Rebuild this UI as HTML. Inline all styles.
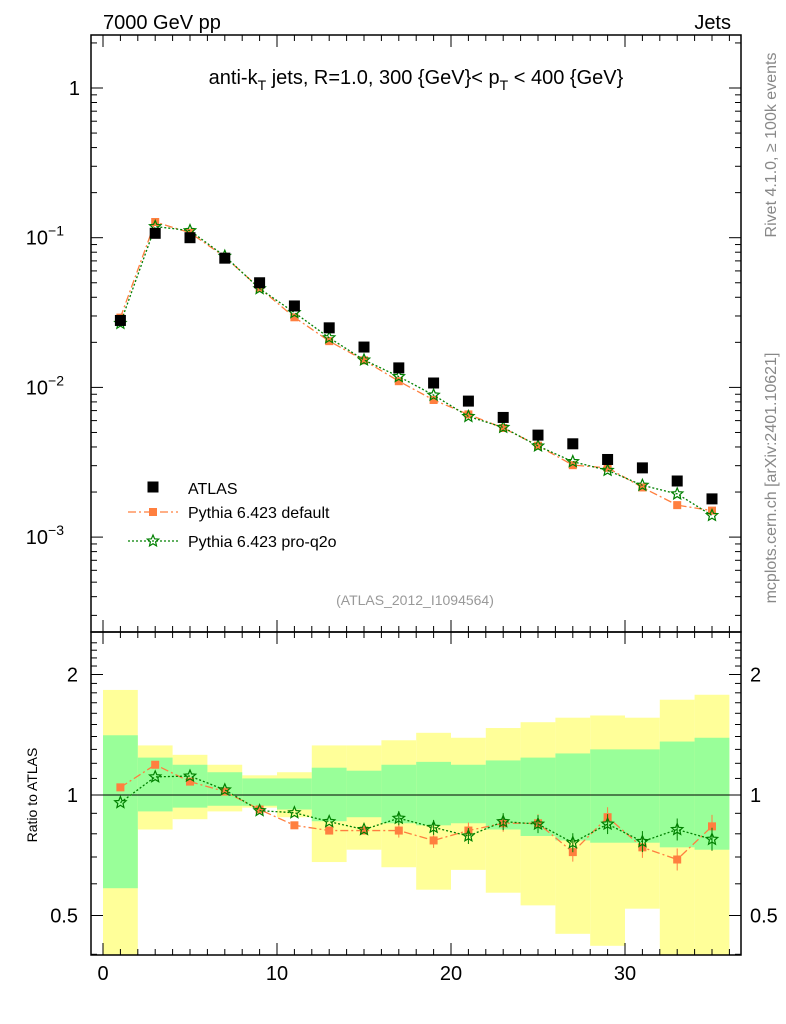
<!DOCTYPE html>
<html><head><meta charset="utf-8"><style>
body{margin:0;background:#fff}
svg{display:block;font-family:"Liberation Sans",sans-serif}
</style></head><body>
<svg id="c" width="786" height="1024" viewBox="0 0 786 1024"></svg>
<script>
const binCenters=[1,3,5,7,9,11,13,15,17,19,21,23,25,27,29,31,33,35];
const atlasValues=[0.028,0.107,0.100,0.073,0.050,0.035,0.025,0.0186,0.0135,0.0107,0.0081,0.0063,0.0048,0.0042,0.0033,0.0029,0.00237,0.0018];
const ratioDefault=[1.045,1.19,1.08,1.02,0.92,0.84,0.815,0.815,0.815,0.77,0.815,0.85,0.85,0.72,0.88,0.74,0.69,0.835];
const ratioProQ2o=[0.957,1.11,1.115,1.03,0.914,0.903,0.858,0.82,0.875,0.83,0.79,0.858,0.846,0.76,0.846,0.765,0.82,0.775];
const yellowUp=[1.83,1.33,1.26,1.19,1.12,1.14,1.33,1.33,1.37,1.43,1.39,1.47,1.52,1.56,1.58,1.56,1.73,1.78];
const yellowLo=[0.3,0.82,0.87,0.91,0.93,0.88,0.68,0.73,0.66,0.58,0.65,0.57,0.53,0.45,0.42,0.52,0.3,0.3];
const greenUp=[1.41,1.24,1.19,1.14,1.10,1.10,1.17,1.15,1.19,1.21,1.19,1.22,1.24,1.27,1.30,1.30,1.36,1.39];
const greenLo=[0.585,0.91,0.93,0.94,0.94,0.92,0.86,0.88,0.85,0.84,0.85,0.82,0.79,0.77,0.76,0.76,0.74,0.73];
const xTicks=[0,10,20,30];

const L=91,R=741,T=35,M=632,B=955;
const X=v=>103+v*17.4;
const Y=v=>88-Math.log10(v)*149.7;
const YR=v=>{const y=795-Math.log2(v)*120.5;return Math.max(M,Math.min(B,y));};
const svg=document.getElementById('c');
const NS='http://www.w3.org/2000/svg';
function el(t,a,p){const e=document.createElementNS(NS,t);for(const k in a)e.setAttribute(k,a[k]);(p||svg).appendChild(e);return e;}
function txt(s,a){const e=el('text',a);e.textContent=s;return e;}

for(let i=0;i<binCenters.length;i++){
  const x0=X(binCenters[i]-1),x1=X(binCenters[i]+1);
  const y=el('rect',{x:x0,y:YR(yellowUp[i]),width:x1-x0,height:YR(yellowLo[i])-YR(yellowUp[i]),fill:'#ffff99'});
  
  
}
for(let i=0;i<binCenters.length;i++){
  const x0=X(binCenters[i]-1),x1=X(binCenters[i]+1);
  const g=el('rect',{x:x0,y:YR(greenUp[i]),width:x1-x0,height:YR(greenLo[i])-YR(greenUp[i]),fill:'#99ff99'});
  
  
}
el('line',{x1:L,x2:R,y1:YR(1),y2:YR(1),stroke:'#000','stroke-width':1});

el('rect',{x:L,y:T,width:R-L,height:M-T,fill:'none',stroke:'#000','stroke-width':1.5});
el('rect',{x:L,y:M,width:R-L,height:B-M,fill:'none',stroke:'#000','stroke-width':1.5});

for(let v=0;v<=36;v++){
  const major=v%10===0, len=major?12:6;
  [[T,1],[M,1],[M,-1],[B,-1]].forEach(([y0,d])=>{
    el('line',{x1:X(v),x2:X(v),y1:y0,y2:y0+d*len,stroke:'#000'});
  });
}
xTicks.forEach(v=>{const t=txt(String(v),{x:X(v),y:980,'font-size':20,'text-anchor':'middle'});
  });

for(let d=-4;d<=0;d++){
  for(let m=1;m<10;m++){
    const v=m*Math.pow(10,d),y=Y(v);
    if(y<T||y>M)continue;
    const len=m===1?12:6;
    el('line',{x1:L,x2:L+len,y1:y,y2:y,stroke:'#000'});
    el('line',{x1:R,x2:R-len,y1:y,y2:y,stroke:'#000'});
  }
}
txt('1',{x:80,y:Y(1)+7,'font-size':20,'text-anchor':'end'});
[[-1,'−1'],[-2,'−2'],[-3,'−3']].forEach(([d,s])=>{
  const t=el('text',{x:64,y:Y(Math.pow(10,d))+7,'font-size':20,'text-anchor':'end'});
  t.textContent='10';
  const sp=el('tspan',{dy:-9,'font-size':14},t);sp.textContent=s;
  
});

for(let v=0.4;v<=2.5;v+=0.1){
  const y=YR(v); if(y<=M||y>=B)continue;
  const major=Math.abs(v-0.5)<1e-6||Math.abs(v-1)<1e-6||Math.abs(v-2)<1e-6;
  const len=major?12:6;
  el('line',{x1:L,x2:L+len,y1:y,y2:y,stroke:'#000'});
  el('line',{x1:R,x2:R-len,y1:y,y2:y,stroke:'#000'});
}
[[2,'2'],[1,'1'],[0.5,'0.5']].forEach(([v,s])=>{
  txt(s,{x:78,y:YR(v)+7,'font-size':20,'text-anchor':'end'});
  txt(s,{x:750,y:YR(v)+7,'font-size':20});
});

function series(vals,color,dash,marker,name){
  const pts=binCenters.map((c,i)=>[X(c),Y(vals[i])]);
  const p=el('polyline',{points:pts.map(p=>p.join(',')).join(' '),fill:'none',stroke:color,'stroke-width':1.3,'stroke-dasharray':dash});
  
  pts.forEach(q=>marker(q[0],q[1]));
}
function sq(x,y,c,s){el('rect',{x:x-s/2,y:y-s/2,width:s,height:s,fill:c});}
function star(x,y,c,r){const pts=[];for(let k=0;k<10;k++){const a=-Math.PI/2+k*Math.PI/5,rr=k%2?r*0.45:r;pts.push((x+rr*Math.cos(a)).toFixed(1)+','+(y+rr*Math.sin(a)).toFixed(1));}
  el('polygon',{points:pts.join(' '),fill:'none',stroke:c,'stroke-width':1.2});}

const defVals=binCenters.map((c,i)=>atlasValues[i]*ratioDefault[i]);
const proVals=binCenters.map((c,i)=>atlasValues[i]*ratioProQ2o[i]);
series(defVals,'#ff7f3f','8,3,2,3',(x,y)=>sq(x,y,'#ff7f3f',8),'pythia-default');
series(proVals,'#008000','2,2',(x,y)=>star(x,y,'#008000',6),'pythia-pro-q2o');
binCenters.forEach((c,i)=>{const r=el('rect',{x:X(c)-5.5,y:Y(atlasValues[i])-5.5,width:11,height:11,fill:'#000'});
  });

function rseries(vals,color,dash,marker){
  const pts=binCenters.map((c,i)=>[X(c),YR(vals[i])]);
  el('polyline',{points:pts.map(p=>p.join(',')).join(' '),fill:'none',stroke:color,'stroke-width':1.3,'stroke-dasharray':dash});
  pts.forEach((q,i)=>{ if(i>=8){const e=3+i*0.5;el('line',{x1:q[0],x2:q[0],y1:q[1]-e,y2:q[1]+e,stroke:color});} marker(q[0],q[1]);});
}
rseries(ratioDefault,'#ff7f3f','8,3,2,3',(x,y)=>sq(x,y,'#ff7f3f',8));
rseries(ratioProQ2o,'#008000','2,2',(x,y)=>star(x,y,'#008000',6));

sq(153,487,'#000',11);
txt('ATLAS',{x:188,y:494,'font-size':16});
el('line',{x1:128,x2:178,y1:512,y2:512,stroke:'#ff7f3f','stroke-width':1.3,'stroke-dasharray':'8,3,2,3'});
sq(153,512,'#ff7f3f',8);
txt('Pythia 6.423 default',{x:188,y:518,'font-size':16});
el('line',{x1:128,x2:178,y1:541,y2:541,stroke:'#008000','stroke-width':1.3,'stroke-dasharray':'2,2'});
star(153,541,'#008000',6);
txt('Pythia 6.423 pro-q2o',{x:188,y:547,'font-size':16});

txt('7000 GeV pp',{x:103,y:29,'font-size':20});
txt('Jets',{x:731,y:29,'font-size':20,'text-anchor':'end'});
const tt=el('text',{x:416,y:84,'font-size':20,'text-anchor':'middle'});
tt.innerHTML='anti-k<tspan dy="6" font-size="14">T</tspan><tspan dy="-6"> jets, R=1.0, 300 {GeV}&lt; p</tspan><tspan dy="6" font-size="14">T</tspan><tspan dy="-6"> &lt; 400 {GeV}</tspan>';
txt('(ATLAS_2012_I1094564)',{x:415,y:605,'font-size':14,fill:'#999','text-anchor':'middle'});
txt('Ratio to ATLAS',{x:0,y:0,'font-size':14,'text-anchor':'middle',transform:'translate(37,795) rotate(-90)'});
txt('Rivet 4.1.0, ≥ 100k events',{x:0,y:0,'font-size':16,fill:'#888','text-anchor':'middle',transform:'translate(776,145) rotate(-90)'});
txt('mcplots.cern.ch [arXiv:2401.10621]',{x:0,y:0,'font-size':16,fill:'#888','text-anchor':'middle',transform:'translate(776,478) rotate(-90)'});
</script>
</body></html>
